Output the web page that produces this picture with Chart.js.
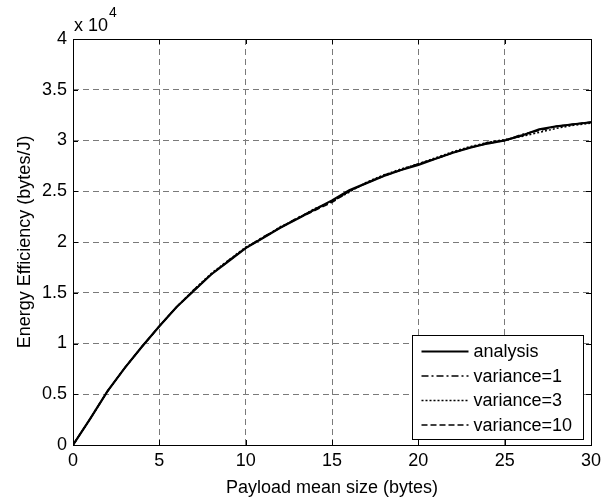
<!DOCTYPE html>
<html>
<head>
<meta charset="utf-8">
<script src="https://cdn.jsdelivr.net/npm/chart.js@4.4.0/dist/chart.umd.min.js"></script>
<style>
  body { margin: 0; background: #fff; }
  canvas { display: block; }
</style>
</head>
<body>
<canvas id="chart" width="615" height="499"></canvas>
<script>
// payload mean size (bytes)
const sizes = [0, 1, 2, 3, 4, 5, 6, 7, 8, 9, 10, 11, 12, 13, 14, 15, 16, 17, 18, 19, 20, 21, 22, 23, 24, 25, 26, 27, 28, 29, 30];
// energy efficiency (bytes/J)
const analysis = [0, 2600, 5300, 7600, 9700, 11700, 13600, 15200, 16800, 18100, 19400, 20400, 21400, 22300, 23200, 24100, 25100, 25800, 26500, 27100, 27600, 28200, 28800, 29300, 29700, 30000, 30500, 31100, 31400, 31600, 31800];
const variance1 = [0, 2600, 5300, 7600, 9700, 11700, 13600, 15300, 16800, 18200, 19400, 20500, 21400, 22400, 23200, 24000, 25000, 25800, 26600, 27100, 27700, 28200, 28800, 29300, 29800, 30000, 30600, 31000, 31400, 31600, 31800];
const variance3 = [0, 2600, 5300, 7600, 9700, 11700, 13600, 15300, 16900, 18200, 19500, 20400, 21500, 22300, 23300, 24000, 24900, 25900, 26600, 27200, 27700, 28300, 28900, 29400, 29800, 30100, 30400, 30800, 31200, 31500, 31700];
const variance10 = [0, 2600, 5300, 7600, 9700, 11700, 13600, 15200, 16800, 18100, 19400, 20400, 21400, 22300, 23100, 23900, 25000, 25800, 26500, 27100, 27700, 28200, 28800, 29300, 29700, 30000, 30500, 31000, 31400, 31600, 31800];
const seriesNames = ['analysis', 'variance=1', 'variance=3', 'variance=10'];
const yTicks = [0, 0.5, 1, 1.5, 2, 2.5, 3, 3.5, 4];

const FONT = 'Arial, "Liberation Sans", sans-serif';

function points(values) {
    return sizes.map((x, i) => ({x: x, y: values[i]}));
}

// MATLAB style box, inward tick marks, exponent label and legend
const matlabBits = {
    id: 'matlabBits',
    afterDraw(chart) {
        const ctx = chart.ctx;
        const area = chart.chartArea;
        const xs = chart.scales.x, ys = chart.scales.y;
        ctx.save();
        ctx.strokeStyle = '#000';
        ctx.lineWidth = 1;
        ctx.setLineDash([]);
        // ticks inside on all sides
        ctx.beginPath();
        xs.ticks.forEach(t => {
            const px = Math.round(xs.getPixelForValue(t.value)) + 0.5;
            ctx.moveTo(px, area.bottom); ctx.lineTo(px, area.bottom - 5);
            ctx.moveTo(px, area.top); ctx.lineTo(px, area.top + 5);
        });
        ys.ticks.forEach(t => {
            const py = Math.round(ys.getPixelForValue(t.value)) + 0.5;
            ctx.moveTo(area.left, py); ctx.lineTo(area.left + 5, py);
            ctx.moveTo(area.right, py); ctx.lineTo(area.right - 5, py);
        });
        ctx.stroke();
        ctx.strokeRect(Math.round(area.left) + 0.5, Math.round(area.top) + 0.5,
            Math.round(area.right - area.left), Math.round(area.bottom - area.top));

        // x 10^4
        ctx.fillStyle = '#000';
        ctx.textBaseline = 'alphabetic';
        ctx.textAlign = 'left';
        ctx.font = '18px ' + FONT;
        ctx.fillText('x 10', area.left + 1, 31);
        const w = ctx.measureText('x 10').width;
        ctx.font = '14px ' + FONT;
        ctx.fillText('4', area.left + 2 + w, 17);

        // legend
        const bx = 412.5, by = 335.5, bw = 171, bh = 104;
        ctx.fillStyle = '#fff';
        ctx.fillRect(bx, by, bw, bh);
        ctx.strokeRect(bx, by, bw, bh);
        ctx.font = '18px ' + FONT;
        ctx.textBaseline = 'middle';
        chart.data.datasets.forEach((ds, i) => {
            const y = by + 16 + i * 24.5;
            ctx.beginPath();
            ctx.lineWidth = ds.borderWidth;
            ctx.strokeStyle = ds.borderColor;
            ctx.setLineDash(ds.borderDash || []);
            ctx.moveTo(bx + 9, y);
            ctx.lineTo(bx + 56, y);
            ctx.stroke();
            ctx.setLineDash([]);
            ctx.fillStyle = '#000';
            ctx.fillText(ds.label, bx + 61, y + 1);
        });
        ctx.restore();
    }
};

new Chart(document.getElementById('chart'), {
    type: 'line',
    data: {
        datasets: [
            {label: seriesNames[0], data: points(analysis), borderColor: '#000', borderWidth: 2.2, borderDash: []},
            {label: seriesNames[1], data: points(variance1), borderColor: '#000', borderWidth: 1.5, borderDash: [7, 3, 2, 3]},
            {label: seriesNames[2], data: points(variance3), borderColor: '#000', borderWidth: 1.5, borderDash: [2, 2]},
            {label: seriesNames[3], data: points(variance10), borderColor: '#000', borderWidth: 1.5, borderDash: [6, 3]}
        ]
    },
    options: {
        responsive: false,
        animation: false,
        events: [],
        elements: {
            point: {radius: 0},
            line: {tension: 0, fill: false}
        },
        layout: {padding: {left: 0, top: 39, right: 24, bottom: 0}},
        plugins: {
            legend: {display: false},
            tooltip: {enabled: false}
        },
        scales: {
            x: {
                type: 'linear',
                min: 0,
                max: 30,
                afterFit(scale) { scale.height = 54; },
                ticks: {stepSize: 5, color: '#000', font: {family: FONT, size: 18}, padding: 5, maxRotation: 0},
                grid: {color: '#7a7a7a', lineWidth: 1, drawTicks: false},
                border: {display: false, dash: [6, 4]},
                title: {display: true, text: 'Payload mean size (bytes)', color: '#000', font: {family: FONT, size: 18}, padding: {top: 2, bottom: 0}}
            },
            y: {
                type: 'linear',
                min: 0,
                max: 40000,
                afterFit(scale) { scale.width = 73; },
                afterBuildTicks(scale) { scale.ticks = yTicks.map(v => ({value: v * 10000})); },
                ticks: {color: '#000', font: {family: FONT, size: 18}, padding: 6, callback: v => String(v / 10000)},
                grid: {color: '#7a7a7a', lineWidth: 1, drawTicks: false},
                border: {display: false, dash: [6, 4]},
                title: {display: true, text: 'Energy Efficiency (bytes/J)', color: '#000', font: {family: FONT, size: 18}, padding: {top: 14, bottom: 0}}
            }
        }
    },
    plugins: [matlabBits]
});
</script>
</body>
</html>
